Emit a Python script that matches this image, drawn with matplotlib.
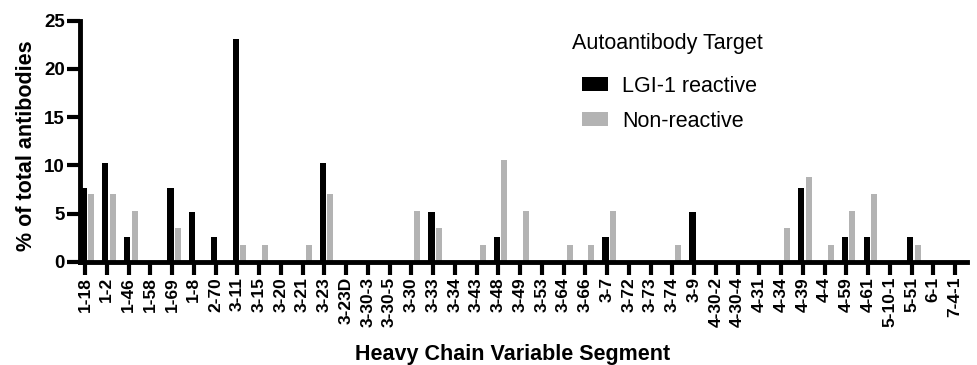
import matplotlib
matplotlib.use('Agg')

import numpy as np
import matplotlib.pyplot as plt

plt.rcParams['font.family'] = ['Liberation Sans', 'DejaVu Sans']

segments = ['1-18', '1-2', '1-46', '1-58', '1-69', '1-8', '2-70', '3-11', '3-15',
            '3-20', '3-21', '3-23', '3-23D', '3-30-3', '3-30-5', '3-30', '3-33',
            '3-34', '3-43', '3-48', '3-49', '3-53', '3-64', '3-66', '3-7', '3-72',
            '3-73', '3-74', '3-9', '4-30-2', '4-30-4', '4-31', '4-34', '4-39',
            '4-4', '4-59', '4-61', '5-10-1', '5-51', '6-1', '7-4-1']

# % of total antibodies
lgi1_reactive = [7.69, 10.26, 2.56, 0, 7.69, 5.13, 2.56, 23.08, 0,
                 0, 0, 10.26, 0, 0, 0, 0, 5.13,
                 0, 0, 2.56, 0, 0, 0, 0, 2.56, 0,
                 0, 0, 5.13, 0, 0, 0, 0, 7.69,
                 0, 2.56, 2.56, 0, 2.56, 0, 0]
non_reactive = [7.02, 7.02, 5.26, 0, 3.51, 0, 0, 1.75, 1.75,
                0, 1.75, 7.02, 0, 0, 0, 5.26, 3.51,
                0, 1.75, 10.53, 5.26, 0, 1.75, 1.75, 5.26, 0,
                0, 1.75, 0, 0, 0, 0, 3.51, 8.77,
                1.75, 5.26, 7.02, 0, 1.75, 0, 0]


def main():
    fig = plt.figure(figsize=(9.78, 3.65), dpi=100)
    ax = fig.add_axes([0.0818, 0.283, 0.907, 0.660])

    x = np.arange(len(segments))
    w = 0.28
    b1 = ax.bar(x - 0.07, lgi1_reactive, w, color='#000000', label='LGI-1 reactive', zorder=2)
    b2 = ax.bar(x + 0.28, non_reactive, w, color='#b3b3b3', label='Non-reactive', zorder=2)

    ax.set_xlim(-0.23, 40.55)
    ax.set_ylim(0, 25)
    ax.set_yticks([0, 5, 10, 15, 20, 25])
    ax.set_xticks(x)
    ax.set_xticklabels(segments, rotation=90, fontsize=12.5, fontweight='bold', va='top', ha='center')
    for lab in ax.get_yticklabels():
        lab.set_fontsize(13.5)
        lab.set_fontweight('bold')

    for s in ['top', 'right']:
        ax.spines[s].set_visible(False)
    for s in ['left', 'bottom']:
        ax.spines[s].set_linewidth(3.5)
        ax.spines[s].set_zorder(3)
    ax.tick_params(axis='both', length=9.5, width=3, pad=1.5)

    ax.set_ylabel('% of total antibodies', fontsize=15.5, fontweight='bold')
    ax.yaxis.set_label_coords(-0.048, 0.48)
    ax.set_xlabel('Heavy Chain Variable Segment', fontsize=15.5, fontweight='bold', va='top')
    ax.xaxis.set_label_coords(0.488, -0.34)

    ax.legend(handles=[b1, b2], loc='upper left', bbox_to_anchor=(582 / 978, 0.793),
              bbox_transform=fig.transFigure, frameon=False, fontsize=15.5,
              handlelength=1.19, handleheight=0.65, handletextpad=0.67,
              labelspacing=0.65, borderpad=0, borderaxespad=0)
    fig.text(572 / 978, (365 - 49) / 365, 'Autoantibody Target', fontsize=15.5, va='baseline')

    fig.savefig('out.png', dpi=100)
    plt.close(fig)


if __name__ == '__main__':
    main()
